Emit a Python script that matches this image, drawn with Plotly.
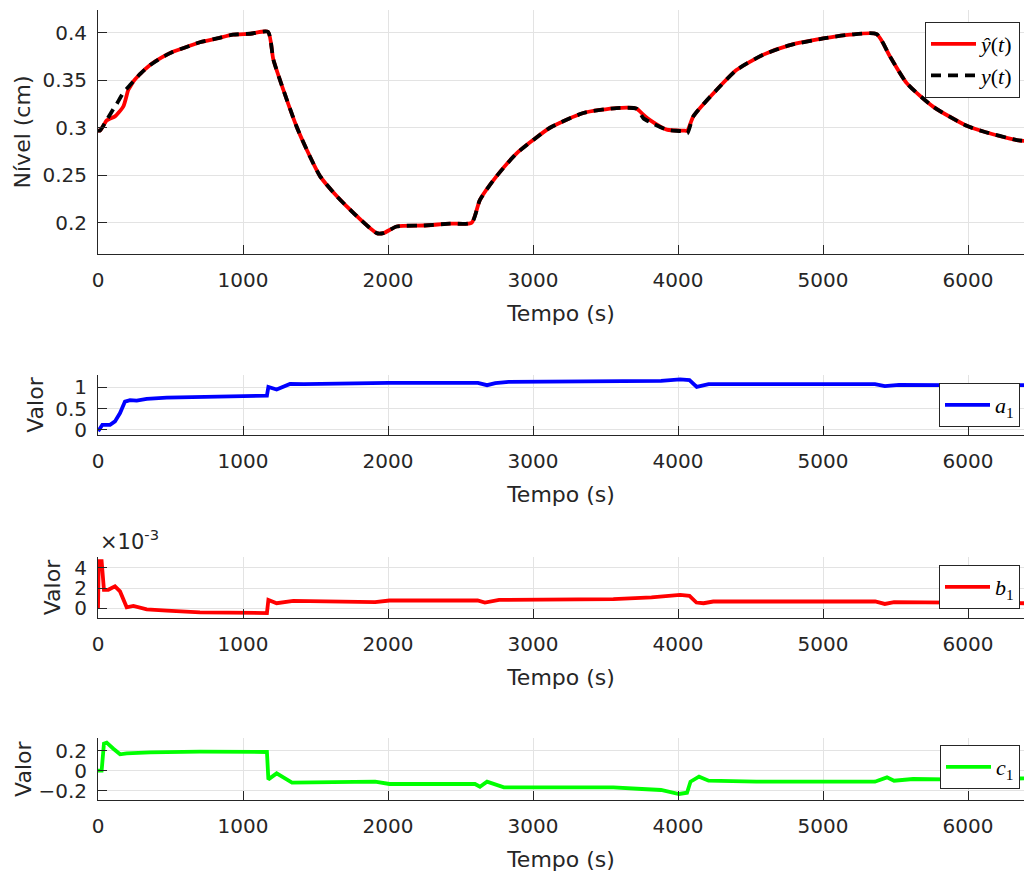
import plotly.graph_objects as go

# ---------------- data ----------------
t_y = [0, 14, 48, 60, 117, 129, 175, 209, 221, 244, 280, 359, 440, 517, 610, 703, 820, 931, 1050, 1172,
       1209, 1278, 1370, 1439, 1531, 1646, 1784, 1922, 1968, 2060, 2244, 2428, 2577, 2634, 2749, 2887,
       3000, 3117, 3347, 3577, 3715, 3761, 3807, 3922, 4037, 4064, 4106, 4267, 4405, 4589, 4772, 5002,
       5186, 5370, 5462, 5577, 5761, 5991, 6106, 6336, 6390]
y_hat = [0.297, 0.297, 0.305, 0.3077, 0.312, 0.3137, 0.3224, 0.340, 0.343, 0.3487, 0.355, 0.366, 0.374,
         0.380, 0.385, 0.390, 0.394, 0.398, 0.399, 0.401,
         0.372, 0.340, 0.301, 0.277, 0.249, 0.228, 0.207, 0.189, 0.189, 0.196, 0.197, 0.199, 0.200, 0.224,
         0.249, 0.273, 0.287, 0.300, 0.3155, 0.3207, 0.320, 0.3137, 0.308, 0.298, 0.297, 0.297, 0.312,
         0.340, 0.361, 0.377, 0.387, 0.394, 0.398, 0.3986, 0.375, 0.347, 0.322, 0.302, 0.296, 0.287, 0.286]
y_meas = [0.297, 0.297, 0.305, 0.308, 0.3224, 0.325, 0.337, 0.343, 0.345, 0.3487, 0.355, 0.366, 0.374,
          0.380, 0.385, 0.390, 0.394, 0.398, 0.399, 0.401,
          0.372, 0.340, 0.301, 0.277, 0.249, 0.228, 0.207, 0.189, 0.189, 0.196, 0.197, 0.199, 0.200, 0.224,
          0.249, 0.273, 0.287, 0.300, 0.3155, 0.3207, 0.320, 0.310, 0.306, 0.298, 0.296, 0.294, 0.312,
          0.340, 0.361, 0.377, 0.387, 0.394, 0.398, 0.3986, 0.375, 0.347, 0.322, 0.302, 0.296, 0.287, 0.286]

t_a = [0, 7, 30, 83, 117, 152, 186, 221, 267, 336, 474, 703, 1165, 1175, 1232, 1324, 1419, 2004, 2620,
       2683, 2740, 2832, 3226, 3883, 4014, 4079, 4129, 4211, 4540, 5358, 5426, 5524, 5853, 6390]
a1 = [-0.02, 0.0, 0.12, 0.12, 0.2, 0.395, 0.665, 0.70, 0.69, 0.73, 0.76, 0.775, 0.805, 1.01, 0.95, 1.08,
      1.077, 1.107, 1.107, 1.05, 1.10, 1.13, 1.14, 1.15, 1.185, 1.17, 1.01, 1.077, 1.077, 1.077, 1.03,
      1.06, 1.053, 1.053]

t_b = [0, 5, 25, 41, 71, 117, 152, 198, 244, 336, 474, 703, 1165, 1175, 1232, 1347, 1911, 2010, 2618,
       2668, 2766, 3554, 3817, 4014, 4079, 4127, 4176, 4243, 5360, 5426, 5490, 5853, 6390]
b1 = [0.0, 0.00466, 0.00466, 0.00183, 0.00183, 0.00217, 0.00167, 0.0001, 0.00023, -0.0001, -0.00024,
      -0.0004, -0.00047, 0.00083, 0.0005, 0.00073, 0.0006, 0.00077, 0.00077, 0.00057, 0.00083, 0.0009,
      0.00107, 0.00133, 0.00123, 0.00057, 0.0005, 0.00067, 0.00067, 0.00043, 0.0006, 0.00057, 0.0005]

t_c = [0, 25, 41, 60, 106, 152, 198, 359, 703, 1165, 1175, 1232, 1338, 1911, 2010, 2600, 2634, 2683,
       2799, 3554, 3752, 3883, 4007, 4062, 4086, 4145, 4211, 4540, 5358, 5441, 5490, 5621, 5853, 6390]
c1 = [0.0, 0.0, 0.27, 0.28, 0.22, 0.164, 0.174, 0.184, 0.19, 0.187, -0.087, -0.027, -0.12, -0.11,
      -0.133, -0.133, -0.16, -0.11, -0.167, -0.167, -0.183, -0.193, -0.233, -0.22, -0.11, -0.06, -0.1,
      -0.11, -0.11, -0.067, -0.1, -0.083, -0.087, -0.077]

x_ticks = [0, 1000, 2000, 3000, 4000, 5000, 6000]
y_ticks_top = [0.2, 0.25, 0.3, 0.35, 0.4]
y_ticks_a = [0, 0.5, 1]
y_ticks_b = [0, 0.002, 0.004]
y_ticklabels_b = ['0', '2', '4']
y_ticks_c = [-0.2, 0, 0.2]

# ---------------- figure ----------------
AX = '#262626'
GRID = '#e3e3e3'
SANS = 'DejaVu Sans'
SERIF = 'Liberation Serif'
LW = 3.8

fig = go.Figure()
fig.add_trace(go.Scatter(x=t_y, y=y_hat, mode='lines', name='<i>ŷ</i>(<i>t</i>)',
                         line=dict(color='#ff0000', width=LW, shape='spline', smoothing=0.6),
                         xaxis='x', yaxis='y', legend='legend'))
fig.add_trace(go.Scatter(x=t_y, y=y_meas, mode='lines', name='<i>y</i>(<i>t</i>)',
                         line=dict(color='#000000', width=LW, dash='10px,7px', shape='spline', smoothing=0.6),
                         xaxis='x', yaxis='y', legend='legend'))
fig.add_trace(go.Scatter(x=t_a, y=a1, mode='lines', name='<i>a</i><sub>1</sub>',
                         line=dict(color='#0000ff', width=LW), xaxis='x2', yaxis='y2', legend='legend2'))
fig.add_trace(go.Scatter(x=t_b, y=b1, mode='lines', name='<i>b</i><sub>1</sub>',
                         line=dict(color='#ff0000', width=LW), xaxis='x3', yaxis='y3', legend='legend3'))
fig.add_trace(go.Scatter(x=t_c, y=c1, mode='lines', name='<i>c</i><sub>1</sub>',
                         line=dict(color='#00ff00', width=LW), xaxis='x4', yaxis='y4', legend='legend4'))

# layout geometry (pixels -> paper)
M_L, M_R, M_T, M_B = 98, 1, 10, 74
H = 874
PH = H - M_T - M_B


def py2paper(py):
    return (H - M_B - py) / PH


domains = [
    [py2paper(254), py2paper(10)],
    [py2paper(435), py2paper(375)],
    [py2paper(618.3), py2paper(556.7)],
    [py2paper(800), py2paper(738.3)],
]
yranges = [[0.167, 0.424], [-0.12, 1.29], [-0.00099, 0.0051], [-0.293, 0.324]]
ytickv = [y_ticks_top, y_ticks_a, y_ticks_b, y_ticks_c]
ytitles = ['Nível (cm)', 'Valor', 'Valor', 'Valor']
ystandoff = [5, 5, 7, 0]

tickfont = dict(family=SANS, size=20, color=AX)
titlefont = dict(family=SANS, size=22, color=AX)

layout = dict(
    width=1025, height=H,
    margin=dict(l=M_L, r=M_R, t=M_T, b=M_B),
    paper_bgcolor='white', plot_bgcolor='white',
    showlegend=True,
)

for i in range(4):
    s = '' if i == 0 else str(i + 1)
    layout['xaxis' + s] = dict(
        domain=[0, 1], anchor='y' + s, range=[0, 6386], tickvals=x_ticks,
        ticks='inside', ticklen=9, tickcolor=AX, tickwidth=1,
        showline=True, linecolor=AX, linewidth=1,
        showgrid=True, gridcolor=GRID, gridwidth=1, zeroline=False,
        tickfont=tickfont, ticklabelstandoff=8,
        title=dict(text='Tempo (s)', font=titlefont, standoff=14),
        automargin=False,
    )
    ya = dict(
        domain=domains[i], anchor='x' + s, range=yranges[i], tickvals=ytickv[i],
        ticks='inside', ticklen=9, tickcolor=AX, tickwidth=1,
        showline=True, linecolor=AX, linewidth=1,
        showgrid=True, gridcolor=GRID, gridwidth=1, zeroline=False,
        tickfont=tickfont, ticklabelstandoff=6,
        title=dict(text=ytitles[i], font=titlefont, standoff=ystandoff[i]),
        automargin=False,
    )
    if i == 2:
        ya['ticktext'] = y_ticklabels_b
    layout['yaxis' + s] = ya

legend_common = dict(
    xanchor='right', yanchor='top', bgcolor='white', bordercolor=AX, borderwidth=1,
    font=dict(family=SERIF, size=22, color='#000000'), itemwidth=45,
    tracegroupgap=0,
)
xr = (1020 - M_L) / (1025 - M_L - M_R)
layout['legend'] = dict(legend_common, x=xr, y=py2paper(22))
layout['legend2'] = dict(legend_common, x=xr, y=py2paper(383))
layout['legend3'] = dict(legend_common, x=xr, y=py2paper(565))
layout['legend4'] = dict(legend_common, x=xr, y=py2paper(745))

fig.update_layout(**layout)

fig.add_annotation(
    x=0, xref='paper', y=py2paper(556), yref='paper', xanchor='left', yanchor='bottom',
    text='×10<sup>-3</sup>', showarrow=False, font=dict(family=SANS, size=21, color=AX),
)

fig.write_html('out.html')
